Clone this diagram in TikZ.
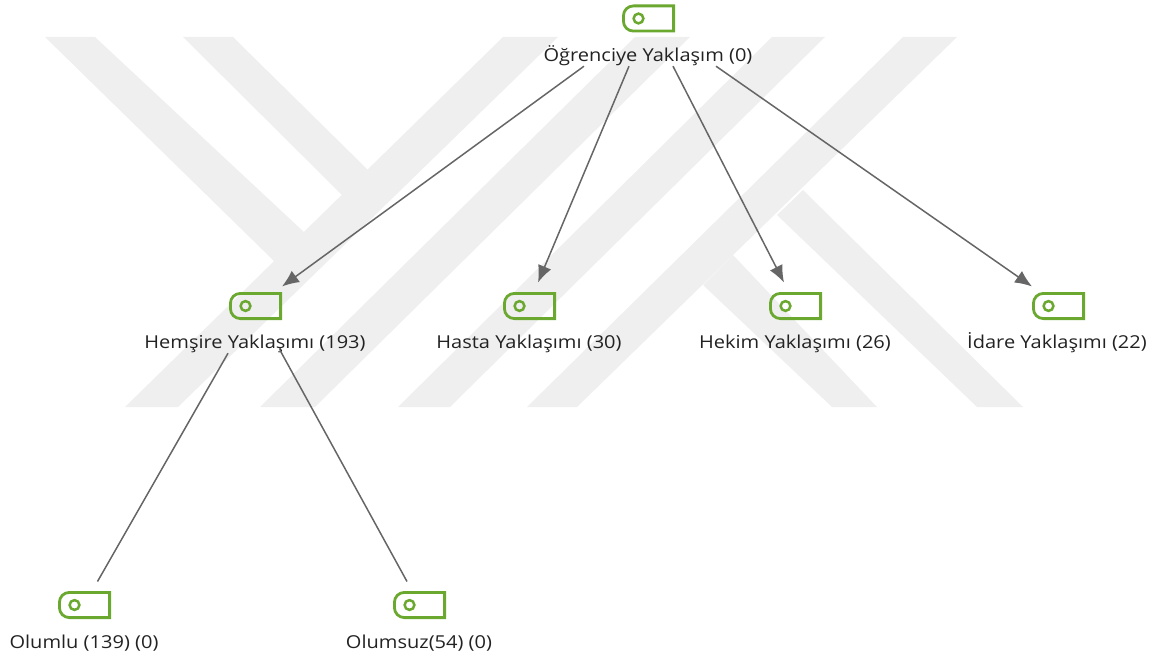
\documentclass[tikz,border=0pt]{standalone}
\usepackage{fontspec}
\setmainfont[FakeStretch=1.125]{Open Sans}
\usetikzlibrary{arrows.meta}
\definecolor{wm}{HTML}{EFEFEF}
\definecolor{icongreen}{HTML}{6BA82F}
\definecolor{conncol}{HTML}{666666}
\definecolor{labelcol}{HTML}{222222}
\tikzset{
  x=1pt,y=-1pt,
  wmark/.style={fill=wm,draw=none},
  iconbox/.style={draw=none,minimum width=53pt,minimum height=28pt,inner sep=0pt,outer sep=0pt,
    path picture={
      \draw[icongreen,line width=2.8pt,line join=miter]
        ([shift={(-1.4pt,-1.4pt)}]path picture bounding box.north east)
        -- ([shift={(-1.4pt,1.4pt)}]path picture bounding box.south east)
        -- ([shift={(11.4pt,1.4pt)}]path picture bounding box.south west)
        arc[start angle=270,end angle=180,radius=10pt]
        -- ([shift={(1.4pt,-11.4pt)}]path picture bounding box.north west)
        arc[start angle=180,end angle=90,radius=10pt]
        -- cycle;
      \draw[icongreen,line width=2.5pt] ([xshift=16.5pt]path picture bounding box.west) circle[radius=4.9pt];
    }},
  lab/.style={font=\fontsize{17.8}{20}\selectfont,text=labelcol,inner sep=0pt,anchor=center,text height=13pt,text depth=4pt},
  conn/.style={draw=conncol,line width=1.5pt},
  connarrow/.style={conn,-{Latex[length=17pt,width=14pt]}}
}
\begin{document}
\begin{tikzpicture}
\useasboundingbox (0,0) rectangle (1161,658);
% watermark
\fill[wmark] (125,407)--(503,37)--(558,37)--(178,407)--cycle;
\fill[wmark] (260,407)--(635,37)--(690,37)--(315,407)--cycle;
\fill[wmark] (398,407)--(772,37)--(825,37)--(450,407)--cycle;
\fill[wmark] (527,407)--(903,37)--(957,37)--(577,407)--cycle;
\fill[wmark] (45,37)--(95,37)--(305,233)--(275,262)--cycle;
\fill[wmark] (183,37)--(233,37)--(368,170)--(342,195)--cycle;
\fill[wmark] (703,285)--(733,255)--(877,407)--(832,407)--cycle;
\fill[wmark] (777,215)--(803,190)--(1023,407)--(977,407)--cycle;
% icons
\node[iconbox] (rooticon) at (648.5,18.5) {};
\node[iconbox] (hemicon) at (255.5,306) {};
\node[iconbox] (hasicon) at (529.5,306) {};
\node[iconbox] (hekicon) at (795.5,306) {};
\node[iconbox] (idaicon) at (1058.5,306) {};
\node[iconbox] (olpicon) at (84.5,605) {};
\node[iconbox] (olnicon) at (419.5,605) {};
% labels
\node[lab] (root) at (648,57) {Öğrenciye Yaklaşım (0)};
\node[lab] (hem) at (255,343.5) {Hemşire Yaklaşımı (193)};
\node[lab] (has) at (529,343.5) {Hasta Yaklaşımı (30)};
\node[lab] (hek) at (795,343.5) {Hekim Yaklaşımı (26)};
\node[lab] (ida) at (1057,343.5) {İdare Yaklaşımı (22)};
\node[lab] (olp) at (84,643.5) {Olumlu (139) (0)};
\node[lab] (oln) at (419,643.5) {Olumsuz(54) (0)};
% connectors
\draw[connarrow] ([shift={(-64pt,-0.5pt)}]root.south) -- ([shift={(26.5pt,5.5pt)}]hemicon.north);
\draw[connarrow] ([shift={(-19pt,-0.5pt)}]root.south) -- ([shift={(8.5pt,9.5pt)}]hasicon.north);
\draw[connarrow] ([shift={(25pt,-0.5pt)}]root.south) -- ([shift={(-11.5pt,9.5pt)}]hekicon.north);
\draw[connarrow] ([shift={(68pt,-0.5pt)}]root.south) -- ([shift={(-26.5pt,5.5pt)}]idaicon.north);
\draw[conn] ([shift={(-27pt,-1pt)}]hem.south) -- ([shift={(13pt,9.5pt)}]olpicon.north);
\draw[conn] ([shift={(25pt,2pt)}]hem.south) -- ([shift={(-12.5pt,9.5pt)}]olnicon.north);
\end{tikzpicture}
\end{document}
